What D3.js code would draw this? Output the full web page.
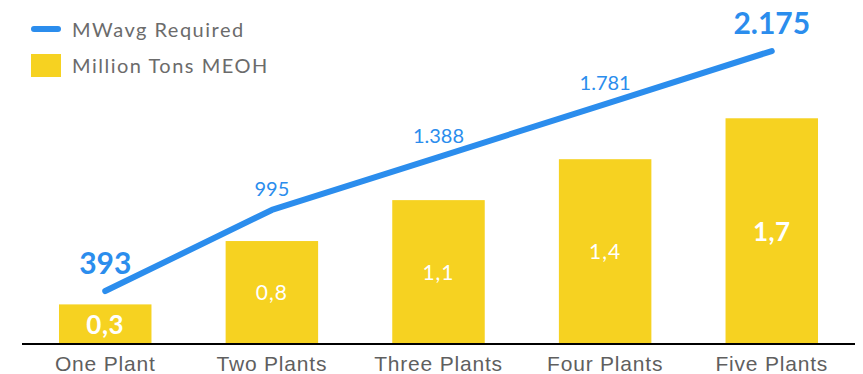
<!DOCTYPE html>
<html lang="en">
<head>
    <meta charset="UTF-8">
    <title>MWavg Required vs Million Tons MEOH</title>
    <script src="https://d3js.org/d3.v7.min.js"></script>
    <style>
        body {
            margin: 0;
            background: #fff;
            font-family: "Century Gothic", Lato, "Open Sans", sans-serif;
        }
        .axis-label {
            font-size: 21px;
            letter-spacing: 0.8px;
            fill: #5f5f5f;
        }
        .legend-text {
            font-size: 20px;
            letter-spacing: 1.5px;
            fill: #6b6b6b;
        }
    </style>
</head>
<body>
    <svg id="chart" width="863" height="374"></svg>

    <script>
        // Chart data
        const categories = ["One Plant", "Two Plants", "Three Plants", "Four Plants", "Five Plants"];
        const meohTons = [0.3, 0.78, 1.09, 1.4, 1.71];      // Million Tons MEOH (bars)
        const meohLabels = ["0,3", "0,8", "1,1", "1,4", "1,7"];
        const mwavg = [393, 995, 1388, 1781, 2175];          // MWavg Required (line)
        const mwavgLabels = ["393", "995", "1.388", "1.781", "2.175"];
        const boldIdx = [0, 4]; // first and last labels are emphasised

        const blue = "#2b8ded";
        const yellow = "#f6d221";

        const baseY = 344, topY = 14;

        const svg = d3.select("#chart");

        const x = d3.scaleBand()
            .domain(categories)
            .range([22, 855])
            .paddingInner(0.445)
            .paddingOuter(0.222);

        const yBar = d3.scaleLinear()
            .domain([0, 2.5])
            .range([baseY, topY]);

        const yLine = d3.scaleLinear()
            .domain([0, 2450])
            .range([baseY, topY]);

        // Bars
        svg.selectAll("rect.bar")
            .data(meohTons)
            .enter().append("rect")
            .attr("class", "bar")
            .attr("x", (d, i) => x(categories[i]))
            .attr("y", d => yBar(d))
            .attr("width", x.bandwidth())
            .attr("height", d => baseY - yBar(d))
            .attr("fill", yellow);

        // Bar value labels (white, centered in bar)
        svg.selectAll("text.bar-label")
            .data(meohTons)
            .enter().append("text")
            .attr("class", "bar-label")
            .attr("x", (d, i) => x(categories[i]) + x.bandwidth() / 2)
            .attr("y", d => (yBar(d) + baseY) / 2)
            .attr("dy", "0.36em")
            .attr("text-anchor", "middle")
            .attr("fill", "#fff")
            .attr("font-size", (d, i) => boldIdx.includes(i) ? "26px" : "21px")
            .attr("letter-spacing", (d, i) => boldIdx.includes(i) ? "0.5px" : "1px")
            .attr("font-weight", (d, i) => boldIdx.includes(i) ? "bold" : "normal")
            .text((d, i) => meohLabels[i]);

        // X axis
        const xAxis = svg.append("g")
            .attr("transform", `translate(0,${baseY})`)
            .call(d3.axisBottom(x).tickSize(0).tickPadding(8));
        xAxis.select(".domain").attr("stroke", "#000").attr("stroke-width", 2).attr("d", "M22,0H855");
        xAxis.selectAll("text")
            .attr("class", "axis-label")
            .attr("font-family", null)
            .attr("font-size", null)
            .attr("fill", null)
            .attr("dy", "0.9em");

        // Line
        const line = d3.line()
            .x((d, i) => x(categories[i]) + x.bandwidth() / 2)
            .y(d => yLine(d));

        svg.append("path")
            .datum(mwavg)
            .attr("fill", "none")
            .attr("stroke", blue)
            .attr("stroke-width", 6)
            .attr("stroke-linecap", "round")
            .attr("stroke-linejoin", "round")
            .attr("d", line);

        // Line value labels
        svg.selectAll("text.line-label")
            .data(mwavg)
            .enter().append("text")
            .attr("class", "line-label")
            .attr("x", (d, i) => x(categories[i]) + x.bandwidth() / 2)
            .attr("y", (d, i) => yLine(d) - (boldIdx.includes(i) ? 17 : 14))
            .attr("text-anchor", "middle")
            .attr("fill", blue)
            .attr("font-size", (d, i) => boldIdx.includes(i) ? "30px" : "20px")
            .attr("font-weight", (d, i) => boldIdx.includes(i) ? "bold" : "normal")
            .text((d, i) => mwavgLabels[i]);

        // Legend
        const legend = svg.append("g");
        legend.append("line")
            .attr("x1", 34).attr("x2", 58)
            .attr("y1", 29).attr("y2", 29)
            .attr("stroke", blue)
            .attr("stroke-width", 6)
            .attr("stroke-linecap", "round");
        legend.append("text")
            .attr("class", "legend-text")
            .attr("x", 72).attr("y", 37)
            .text("MWavg Required");
        legend.append("rect")
            .attr("x", 31).attr("y", 54)
            .attr("width", 30).attr("height", 23)
            .attr("fill", yellow);
        legend.append("text")
            .attr("class", "legend-text")
            .attr("x", 72).attr("y", 73)
            .text("Million Tons MEOH");
    </script>
</body>
</html>
